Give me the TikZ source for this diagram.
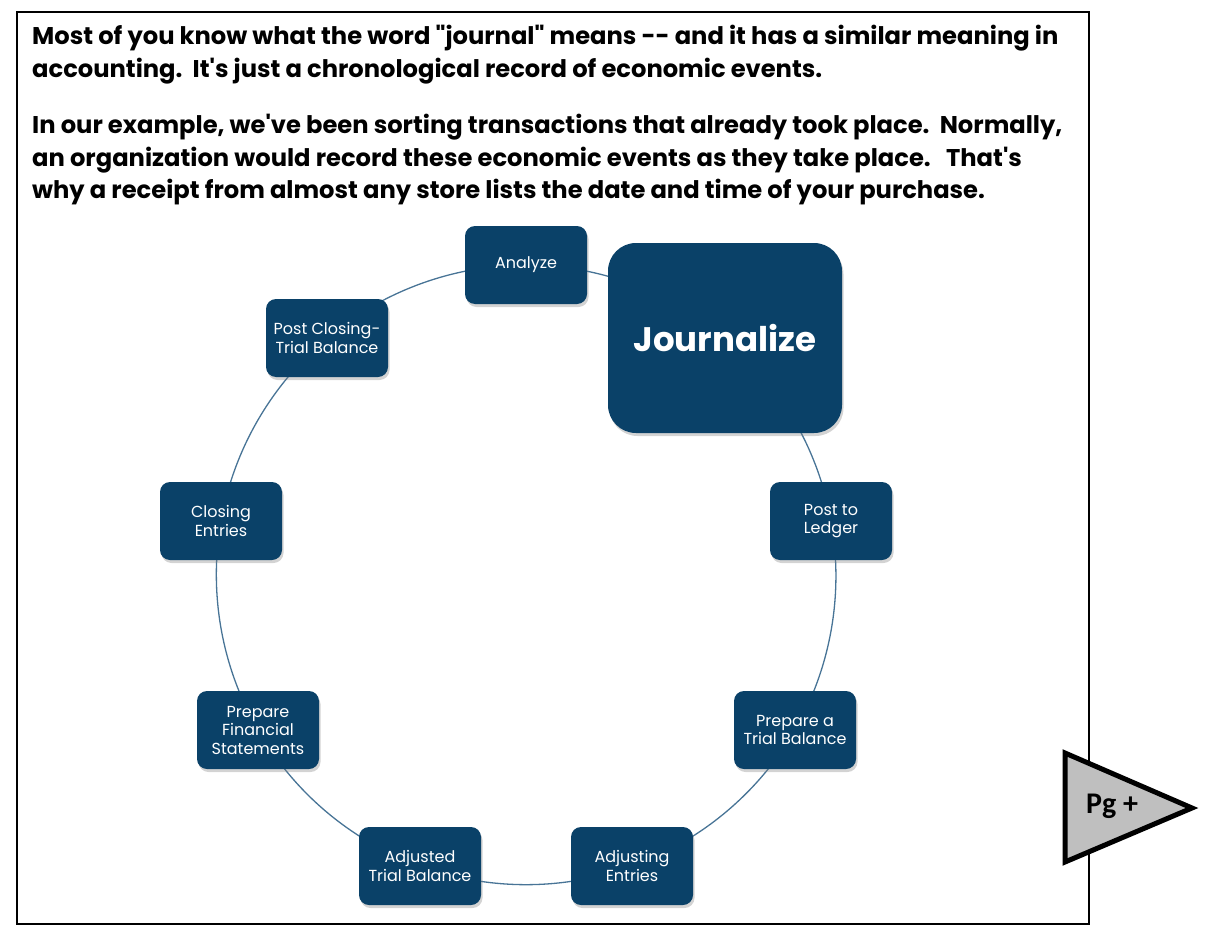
\documentclass[tikz,border=0pt]{standalone}
\usepackage{fontspec}
\setmainfont{Poppins}
\newfontfamily\pgfont{Carlito}
\usepackage{tikz}
\usetikzlibrary{arrows,%
                shadows,%
                backgrounds}
\usepackage{tkz-berge}
\definecolor{cyclenavy}{RGB}{10,65,104}
\definecolor{cycleline}{RGB}{72,116,150}
\definecolor{pggray}{RGB}{191,191,191}

\begin{document}
\begin{tikzpicture}[x=1pt,y=-1pt]
		\useasboundingbox (0,0) rectangle (1208,934);
		\draw[line width=1.5pt] (17,12) rectangle (1089,924);
		%\draw[help lines] (0,0) grid[step=100] (1208,934);
		\tikzset{IntroStyle/.style = {anchor=north west,inner sep=0pt,align=left,font=\bfseries\fontsize{24.2}{32.5}\selectfont}}
		\node[IntroStyle] (introA) at (32,25) {Most of you know what the word \textquotedbl journal\textquotedbl{} means -{}- and it has a similar meaning in\\accounting.\ \ It\textquotesingle s just a chronological record of economic events.};
		\node[IntroStyle] (introB) at (32,114) {In our example, we\textquotesingle ve been sorting transactions that already took place.\ \ Normally,\\an organization would record these economic events as they take place.\ \ \ That\textquotesingle s\\why a receipt from almost any store lists the date and time of your purchase.};
		\GraphInit[vstyle=Normal]
		\tikzset{VertexStyle/.style = {shape=rectangle,rounded corners=10pt,fill=cyclenavy,text=white,align=center,
			minimum width=122pt,minimum height=78pt,inner sep=2pt,font=\fontsize{16}{18.5}\selectfont,
			drop shadow={shadow xshift=1.5pt,shadow yshift=-3pt,opacity=0.35}}}
		\Vertex[x=526,y=265,L=Analyze]{A}
		{
			\tikzset{VertexStyle/.append style = {rounded corners=28pt,minimum width=234pt,minimum height=190pt,font=\bfseries\fontsize{34}{40}\selectfont}}
			\Vertex[x=725,y=338,L=Journalize]{J}
		}
		\Vertex[x=831,y=521,L={Post to\\Ledger}]{L}
		\Vertex[x=795,y=730,L={Prepare a\\Trial Balance}]{T}
		\Vertex[x=632,y=866,L={Adjusting\\Entries}]{AE}
		\Vertex[x=420,y=866,L={Adjusted\\Trial Balance}]{AT}
		\Vertex[x=258,y=730,L={Prepare\\Financial\\Statements}]{FS}
		\Vertex[x=221,y=521,L={Closing\\Entries}]{C}
		\Vertex[x=327,y=338,L={Post Closing-\\Trial Balance}]{PC}
		\tikzset{EdgeStyle/.style = {draw=cycleline,line width=1.3pt,bend left=20,looseness=0.88}}
		\begin{scope}[on background layer]
			\draw[EdgeStyle] (A.center) to (J.center);
			\draw[EdgeStyle] (J.center) to (L.center);
			\draw[EdgeStyle] (L.center) to (T.center);
			\draw[EdgeStyle] (T.center) to (AE.center);
			\draw[EdgeStyle] (AE.center) to (AT.center);
			\draw[EdgeStyle] (AT.center) to (FS.center);
			\draw[EdgeStyle] (FS.center) to (C.center);
			\draw[EdgeStyle] (C.center) to (PC.center);
			\draw[EdgeStyle] (PC.center) to (A.center);
		\end{scope}
		% page turn
		\draw[line width=5pt,line join=miter,fill=pggray] (1065,753) -- (1192,808) -- (1065,862) -- cycle;
		\node[font=\pgfont\bfseries\fontsize{30}{36}\selectfont] (pg) at (1112,806) {Pg +};
	\end{tikzpicture}
\end{document}
